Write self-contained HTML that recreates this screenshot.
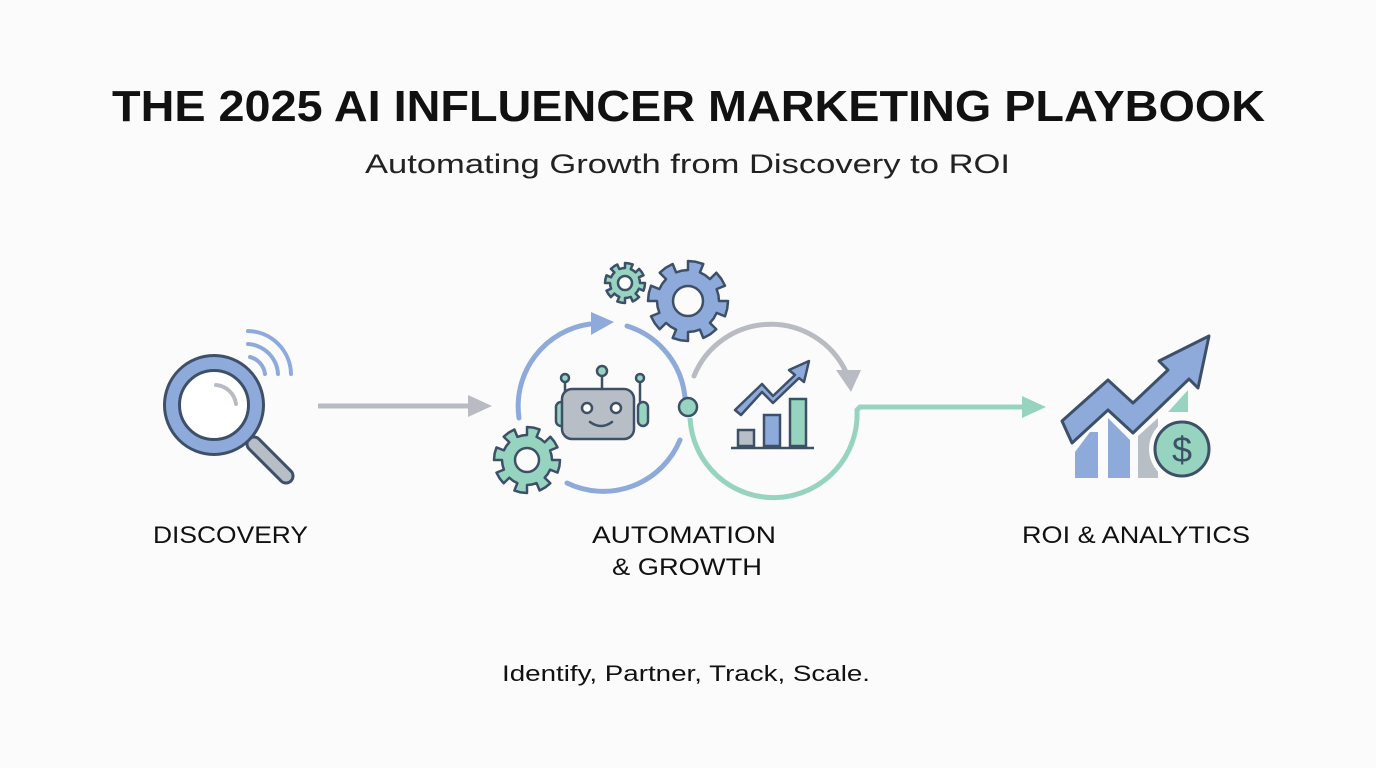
<!DOCTYPE html>
<html><head><meta charset="utf-8"><style>
html,body{margin:0;padding:0;background:#fbfbfb;}
svg{display:block}
text{font-family:"Liberation Sans",sans-serif;}
</style></head><body>
<svg id="s" width="1376" height="768" viewBox="0 0 1376 768" xmlns="http://www.w3.org/2000/svg">
<rect width="1376" height="768" fill="#fbfbfb"/>
<text x="112" y="121" textLength="1153" lengthAdjust="spacingAndGlyphs" font-size="44" font-weight="bold" fill="#111">THE 2025 AI INFLUENCER MARKETING PLAYBOOK</text>
<text x="365" y="173" textLength="645" lengthAdjust="spacingAndGlyphs" font-size="27" fill="#222">Automating Growth from Discovery to ROI</text>

<!-- magnifier -->
<g stroke="#3d5068" stroke-width="3" stroke-linecap="round">
<path d="M254 444 L286 476" stroke="#3d5068" stroke-width="17"/>
<path d="M254 444 L286 476" stroke="#b8bec6" stroke-width="11"/>
<circle cx="214" cy="405" r="42" fill="#fff" stroke="#3d5068" stroke-width="18"/>
<circle cx="214" cy="405" r="42" fill="none" stroke="#8eaadb" stroke-width="12"/>
</g>
<path d="M216 385 A22 22 0 0 1 236 404" fill="none" stroke="#b8bcc2" stroke-width="4" stroke-linecap="round"/>
<g fill="none" stroke="#8eaadb" stroke-width="4" stroke-linecap="round">
<path d="M248 331 A44 44 0 0 1 291 374"/>
<path d="M248 344 A32 32 0 0 1 278 374"/>
<path d="M250 357 A20 20 0 0 1 265 374"/>
</g>

<!-- arrow 1 -->
<line x1="318" y1="406" x2="472" y2="406" stroke="#b8bcc2" stroke-width="5"/>
<path d="M468 395 L492 406 L468 417 Z" fill="#b8bcc2"/>

<!-- left circle arcs -->
<g fill="none" stroke="#8eaadb" stroke-width="5" stroke-linecap="round">
<path d="M519 418 A83 83 0 0 1 590 324"/>
<path d="M627 326 A83 83 0 0 1 685 398"/>
<path d="M567 483 A83 83 0 0 0 680 440"/>
</g>
<path d="M591 312 L614 322 L591 335 Z" fill="#8eaadb"/>
<!-- right circle -->
<path d="M694 376 A83 83 0 0 1 846 372" fill="none" stroke="#b8bcc2" stroke-width="5" stroke-linecap="round"/>
<path d="M836 370 L861 370 L851 392 Z" fill="#b8bcc2"/>
<path d="M690 418 A83 83 0 0 0 857 410 L860 407 L1025 407" fill="none" stroke="#97d4c0" stroke-width="5"/>
<path d="M1022 396 L1046 407 L1022 418 Z" fill="#97d4c0"/>
<circle cx="688" cy="407" r="9" fill="#97d4c0" stroke="#3d5068" stroke-width="2.5"/>

<g id="gears"></g>

<!-- robot -->
<g stroke="#3d5068" stroke-width="2.5">
<line x1="565" y1="380" x2="565" y2="402"/><line x1="640" y1="380" x2="640" y2="402"/><line x1="602" y1="375" x2="602" y2="390"/>
<circle cx="565" cy="378" r="4" fill="#97d4c0"/><circle cx="640" cy="378" r="4" fill="#97d4c0"/><circle cx="602" cy="371" r="5" fill="#97d4c0"/>
<rect x="556" y="402" width="10" height="24" rx="5" fill="#97d4c0"/>
<rect x="638" y="402" width="10" height="24" rx="5" fill="#97d4c0"/>
<rect x="562" y="389" width="72" height="50" rx="10" fill="#b8bec6"/>
<circle cx="587" cy="408" r="5" fill="#fff"/><circle cx="616" cy="408" r="5" fill="#fff"/>
<path d="M590 422 Q601 430 612 422" fill="none" stroke-linecap="round"/>
</g>

<!-- chart -->
<g stroke="#3d5068" stroke-width="2.5">
<rect x="738" y="430" width="16" height="16" fill="#b8bec6"/>
<rect x="764" y="415" width="16" height="31" fill="#8eaadb"/>
<rect x="790" y="399" width="16" height="47" fill="#97d4c0"/>
<line x1="731" y1="448" x2="814" y2="448"/>
<path d="M735 410 L762 384 L773 396 L795 375 L789 370 L809 361 L804 382 L799 378 L773 403 L762 392 L741 415 Z" fill="#8eaadb" stroke-linejoin="round"/>
</g>

<!-- ROI icon -->
<g>
<path d="M1075 478 L1075 452 L1090 432 L1098 432 L1098 478 Z" fill="#8eaadb"/>
<path d="M1108 478 L1108 418 L1130 440 L1130 478 Z" fill="#8eaadb"/>
<path d="M1138 478 L1138 436 L1158 418 L1158 478 Z" fill="#b8bec6"/>
<path d="M1168 412 L1188 390 L1188 412 Z" fill="#97d4c0"/>
<path d="M1062 421 L1108 380 L1133 403 L1168 370 L1159 361 L1209 336 L1198 388 L1189 379 L1133 433 L1108 410 L1072 443 Z" fill="#8eaadb" stroke="#3d5068" stroke-width="3" stroke-linejoin="round"/>
<circle cx="1182" cy="449" r="33" fill="#fbfbfb"/>
<circle cx="1182" cy="449" r="27" fill="#97d4c0" stroke="#3d5068" stroke-width="3"/>
<text x="1182" y="462" text-anchor="middle" font-size="36" fill="#3d5068">$</text>
</g>

<text x="153" y="543" textLength="155" lengthAdjust="spacingAndGlyphs" font-size="24" fill="#111">DISCOVERY</text>
<text x="592" y="543" textLength="184" lengthAdjust="spacingAndGlyphs" font-size="24" fill="#111">AUTOMATION</text>
<text x="612" y="575" textLength="150" lengthAdjust="spacingAndGlyphs" font-size="24" fill="#111">&amp; GROWTH</text>
<text x="1022" y="543" textLength="228" lengthAdjust="spacingAndGlyphs" font-size="24" fill="#111">ROI &amp; ANALYTICS</text>
<text x="502" y="681" textLength="368" lengthAdjust="spacingAndGlyphs" font-size="22" fill="#111">Identify, Partner, Track, Scale.</text>
</svg>
<script>
function gear(cx,cy,ro,ri,hole,n,fill){
 var d="",N=n*4;
 for(var i=0;i<N;i++){
  var a0=(i/N)*2*Math.PI, a1=((i+1)/N)*2*Math.PI;
  var q=i%4;
  var rr=(q==0||q==1)?ro:ri;
  var p0=[cx+rr*Math.cos(a0),cy+rr*Math.sin(a0)],p1=[cx+rr*Math.cos(a1),cy+rr*Math.sin(a1)];
  d+=(i==0?"M":"L")+p0[0].toFixed(1)+" "+p0[1].toFixed(1)+"L"+p1[0].toFixed(1)+" "+p1[1].toFixed(1);
 }
 d+="Z";
 return '<path d="'+d+'" fill="'+fill+'" stroke="#3d5068" stroke-width="2.5" stroke-linejoin="round"/>'+
  '<circle cx="'+cx+'" cy="'+cy+'" r="'+hole+'" fill="#fbfbfb" stroke="#3d5068" stroke-width="2.5"/>';
}
document.getElementById("gears").innerHTML=
 gear(625,283,20,15,7,8,"#97d4c0")+gear(688,301,40,31,15,8,"#8eaadb")+gear(527,460,33,25,12,8,"#97d4c0");
</script>
</body></html>
